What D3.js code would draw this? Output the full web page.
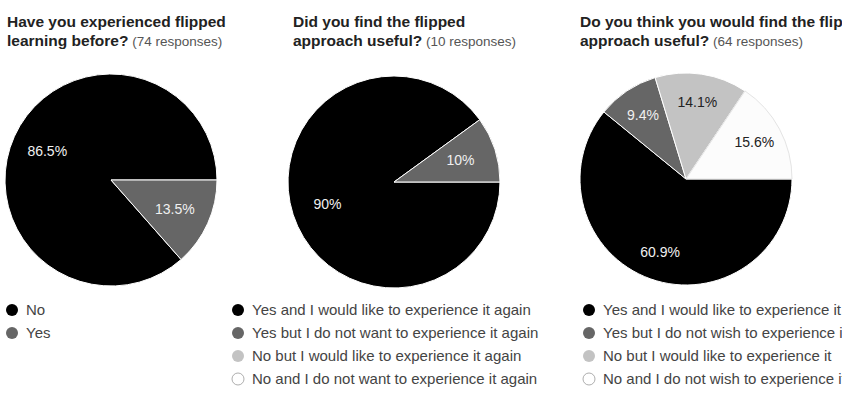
<!DOCTYPE html>
<html>
<head>
<meta charset="utf-8">
<script src="https://cdn.jsdelivr.net/npm/d3@7"></script>
<style>
  body { margin: 0; background: #fff; }
  svg { display: block; font-family: Arial, "Liberation Sans", sans-serif; }
</style>
</head>
<body>
<div id="chart"></div>
<script>
// survey answers (percent of responses)
var q1Labels = ["No", "Yes"];
var q1Values = [86.5, 13.5];
var q1Responses = 74;

var q2Labels = ["Yes and I would like to experience it again",
                "Yes but I do not want to experience it again",
                "No but I would like to experience it again",
                "No and I do not want to experience it again"];
var q2Values = [90, 10, 0, 0];
var q2Responses = 10;

var q3Labels = ["Yes and I would like to experience it",
                "Yes but I do not wish to experience it",
                "No but I would like to experience it",
                "No and I do not wish to experience it"];
var q3Values = [60.9, 9.4, 14.1, 15.6];
var q3Responses = 64;

var titles = [
    ["Have you experienced flipped", "learning before?"],
    ["Did you find the flipped", "approach useful?"],
    ["Do you think you would find the flipped", "approach useful?"]
];

var colors = ["#000000", "#666666", "#c3c3c3", "#fcfcfc"];
var labelColors = ["#f0f0f0", "#f0f0f0", "#222222", "#222222"];

var width = 842, height = 404;

var svg = d3.select("#chart").append("svg")
    .attr("width", width)
    .attr("height", height);

// one panel per question; dir = which way the slices run from 3 o'clock
var panels = [
    { labels: q1Labels, values: q1Values, responses: q1Responses, title: titles[0],
      titleX: 7, cx: 111, cy: 180, legendX: 12, dir: -1, labelR: 0.66 },
    { labels: q2Labels, values: q2Values, responses: q2Responses, title: titles[1],
      titleX: 293, cx: 394, cy: 182, legendX: 238, dir: 1, labelR: 0.66 },
    { labels: q3Labels, values: q3Values, responses: q3Responses, title: titles[2],
      titleX: 580, cx: 686, cy: 179, legendX: 589, dir: 1, labelR: 0.73 }
];

var radius = 106;
var arc = d3.arc().innerRadius(0).outerRadius(radius);

panels.forEach(function (p) {
    var g = svg.append("g");

    // title, two lines
    g.append("text")
        .attr("x", p.titleX)
        .attr("y", 27)
        .attr("fill", "#222")
        .style("font-size", "15.5px")
        .style("font-weight", "bold")
        .text(p.title[0]);
    var l2 = g.append("text")
        .attr("x", p.titleX)
        .attr("y", 46)
        .attr("fill", "#222")
        .style("font-size", "15.5px")
        .style("font-weight", "bold");
    l2.append("tspan").text(p.title[1]);
    l2.append("tspan")
        .attr("fill", "#555")
        .style("font-weight", "normal")
        .style("font-size", "13.5px")
        .text(" (" + p.responses + " responses)");

    var pie = d3.pie()
        .sort(null)
        .value(function (d) { return d; })
        .startAngle(Math.PI / 2)
        .endAngle(Math.PI / 2 + p.dir * 2 * Math.PI);

    var arcs = pie(p.values).map(function (a, i) { a.i = i; return a; })
        .filter(function (a) { return a.value > 0; });

    var pg = g.append("g")
        .attr("transform", "translate(" + p.cx + "," + p.cy + ")");

    pg.selectAll("path")
        .data(arcs)
        .enter().append("path")
        .attr("d", arc)
        .attr("fill", function (d) { return colors[d.i]; })
        .attr("stroke", function (d) { return d.i == 3 ? "#e4e4e4" : "#fff"; })
        .attr("stroke-width", 1);

    var labelArc = d3.arc()
        .innerRadius(radius * p.labelR)
        .outerRadius(radius * p.labelR);

    pg.selectAll("text.pct")
        .data(arcs)
        .enter().append("text")
        .attr("class", "pct")
        .attr("transform", function (d) { return "translate(" + labelArc.centroid(d) + ")"; })
        .attr("text-anchor", "middle")
        .attr("dy", "0.35em")
        .attr("fill", function (d) { return labelColors[d.i]; })
        .style("font-size", "14px")
        .text(function (d) { return d3.format(".3~r")(d.value) + "%"; });

    // legend
    var leg = g.selectAll("g.leg")
        .data(p.labels)
        .enter().append("g")
        .attr("class", "leg")
        .attr("transform", function (d, i) { return "translate(" + p.legendX + "," + (310 + i * 23) + ")"; });

    leg.append("circle")
        .attr("r", 6)
        .attr("fill", function (d, i) { return i == 3 ? "#fff" : colors[i]; })
        .attr("stroke", function (d, i) { return i == 3 ? "#999" : "none"; })
        .attr("stroke-width", 0.8);

    leg.append("text")
        .attr("x", 14)
        .attr("dy", "0.36em")
        .attr("fill", "#444")
        .style("font-size", "15px")
        .text(function (d) { return d; });
});
</script>
</body>
</html>
